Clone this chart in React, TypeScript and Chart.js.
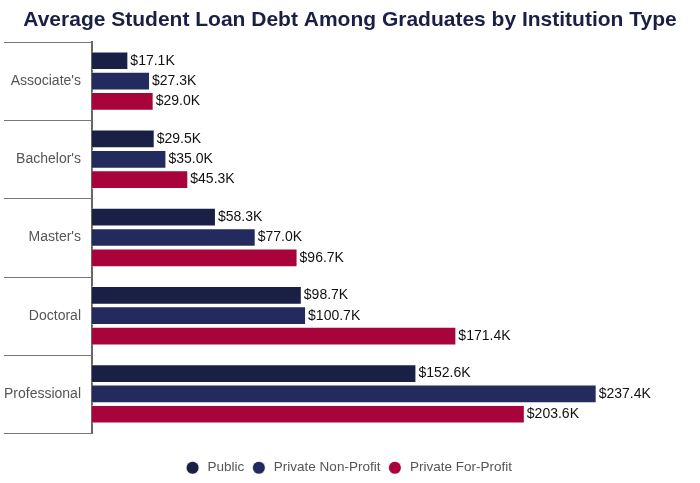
import { useEffect, useRef } from "react";
import { Chart, registerables } from "chart.js";

Chart.register(...registerables);

const degreeTypes = ["Associate's", "Bachelor's", "Master's", "Doctoral", "Professional"];
const seriesNames = ["Public", "Private Non-Profit", "Private For-Profit"];
const publicDebt = [17.1, 29.5, 58.3, 98.7, 152.6];
const nonProfitDebt = [27.3, 35.0, 77.0, 100.7, 237.4];
const forProfitDebt = [29.0, 45.3, 96.7, 171.4, 203.6];
const seriesColors = ["#1a1f45", "#232b5e", "#a8033b"];

const FONT = "'Liberation Sans', Arial, sans-serif";

// separator lines between categories, drawn across the label column
const categorySeparators = {
  id: "categorySeparators",
  afterDraw(chart: Chart) {
    const y = chart.scales.y;
    const ctx = chart.ctx;
    const left = chart.chartArea.left;
    const n = degreeTypes.length;
    const step = (y.getPixelForValue(n - 1) - y.getPixelForValue(0)) / (n - 1);
    ctx.save();
    ctx.strokeStyle = "#777";
    ctx.lineWidth = 1;
    for (let i = 0; i <= n; i++) {
      const py = Math.round(y.getPixelForValue(0) - step / 2 + i * step) + 0.5;
      ctx.beginPath();
      ctx.moveTo(4, py);
      ctx.lineTo(left, py);
      ctx.stroke();
    }
    ctx.restore();
  },
};

// value labels at the end of each bar
const barValueLabels = {
  id: "barValueLabels",
  afterDatasetsDraw(chart: Chart) {
    const ctx = chart.ctx;
    ctx.save();
    ctx.font = `14px ${FONT}`;
    ctx.fillStyle = "#111";
    ctx.textAlign = "left";
    ctx.textBaseline = "middle";
    chart.data.datasets.forEach((ds, di) => {
      const meta = chart.getDatasetMeta(di);
      meta.data.forEach((bar: any, i) => {
        const v = ds.data[i] as number;
        ctx.fillText(`$${v.toFixed(1)}K`, bar.x + 2, bar.y);
      });
    });
    ctx.restore();
  },
};

// keep the legend box a fixed height
const legendHeight = {
  id: "legendHeight",
  beforeLayout(chart: any) {
    const legend = chart.legend;
    if (legend && !legend._patched) {
      const fit = legend.fit.bind(legend);
      legend.fit = () => {
        fit();
        legend.height = 50;
      };
      legend._patched = true;
    }
  },
};

const StudentDebtChart = () => {
  const canvasRef = useRef<HTMLCanvasElement>(null);

  useEffect(() => {
    if (!canvasRef.current) return;
    const values = [publicDebt, nonProfitDebt, forProfitDebt];
    const chart = new Chart(canvasRef.current, {
      type: "bar",
      data: {
        labels: degreeTypes,
        datasets: seriesNames.map((name, i) => ({
          label: name,
          data: values[i],
          backgroundColor: seriesColors[i],
          borderColor: "rgba(255,255,255,0.6)",
          borderWidth: 1,
          categoryPercentage: 0.78,
          barPercentage: 0.92,
        })),
      },
      options: {
        indexAxis: "y",
        animation: false,
        responsive: true,
        maintainAspectRatio: false,
        layout: { padding: 0 },
        scales: {
          x: { display: false, min: 0, max: 286 },
          y: {
            grid: { display: false, drawTicks: false },
            border: { color: "#666", width: 2 },
            ticks: {
              color: "#555",
              padding: 11,
              font: { family: FONT, size: 14 },
            },
            afterFit: (scale: any) => {
              scale.width = 92;
            },
          },
        },
        plugins: {
          title: {
            display: true,
            text: "Average Student Loan Debt Among Graduates by Institution Type",
            color: "#1a1f45",
            font: { family: FONT, size: 21, weight: "bold" },
            padding: { top: 8, bottom: 8.8 },
          },
          legend: {
            position: "bottom",
            title: { display: true, text: "", font: { size: 10 }, padding: { top: 6, bottom: 0 } },
            labels: {
              usePointStyle: true,
              pointStyle: "circle",
              boxWidth: 9,
              boxHeight: 9,
              color: "#555",
              padding: 10,
              font: { family: FONT, size: 13.5 },
              generateLabels: (chart: Chart) =>
                Chart.defaults.plugins.legend.labels
                  .generateLabels(chart)
                  .map((item) => ({ ...item, text: " " + item.text })),
            },
          },
          tooltip: { enabled: false },
        },
      },
      plugins: [categorySeparators, barValueLabels, legendHeight],
    });
    return () => chart.destroy();
  }, []);

  return (
    <div style={{ position: "absolute", left: 0, top: 0, width: 700, height: 483 }}>
      <canvas ref={canvasRef} />
    </div>
  );
};

export default function App() {
  return <StudentDebtChart />;
}
